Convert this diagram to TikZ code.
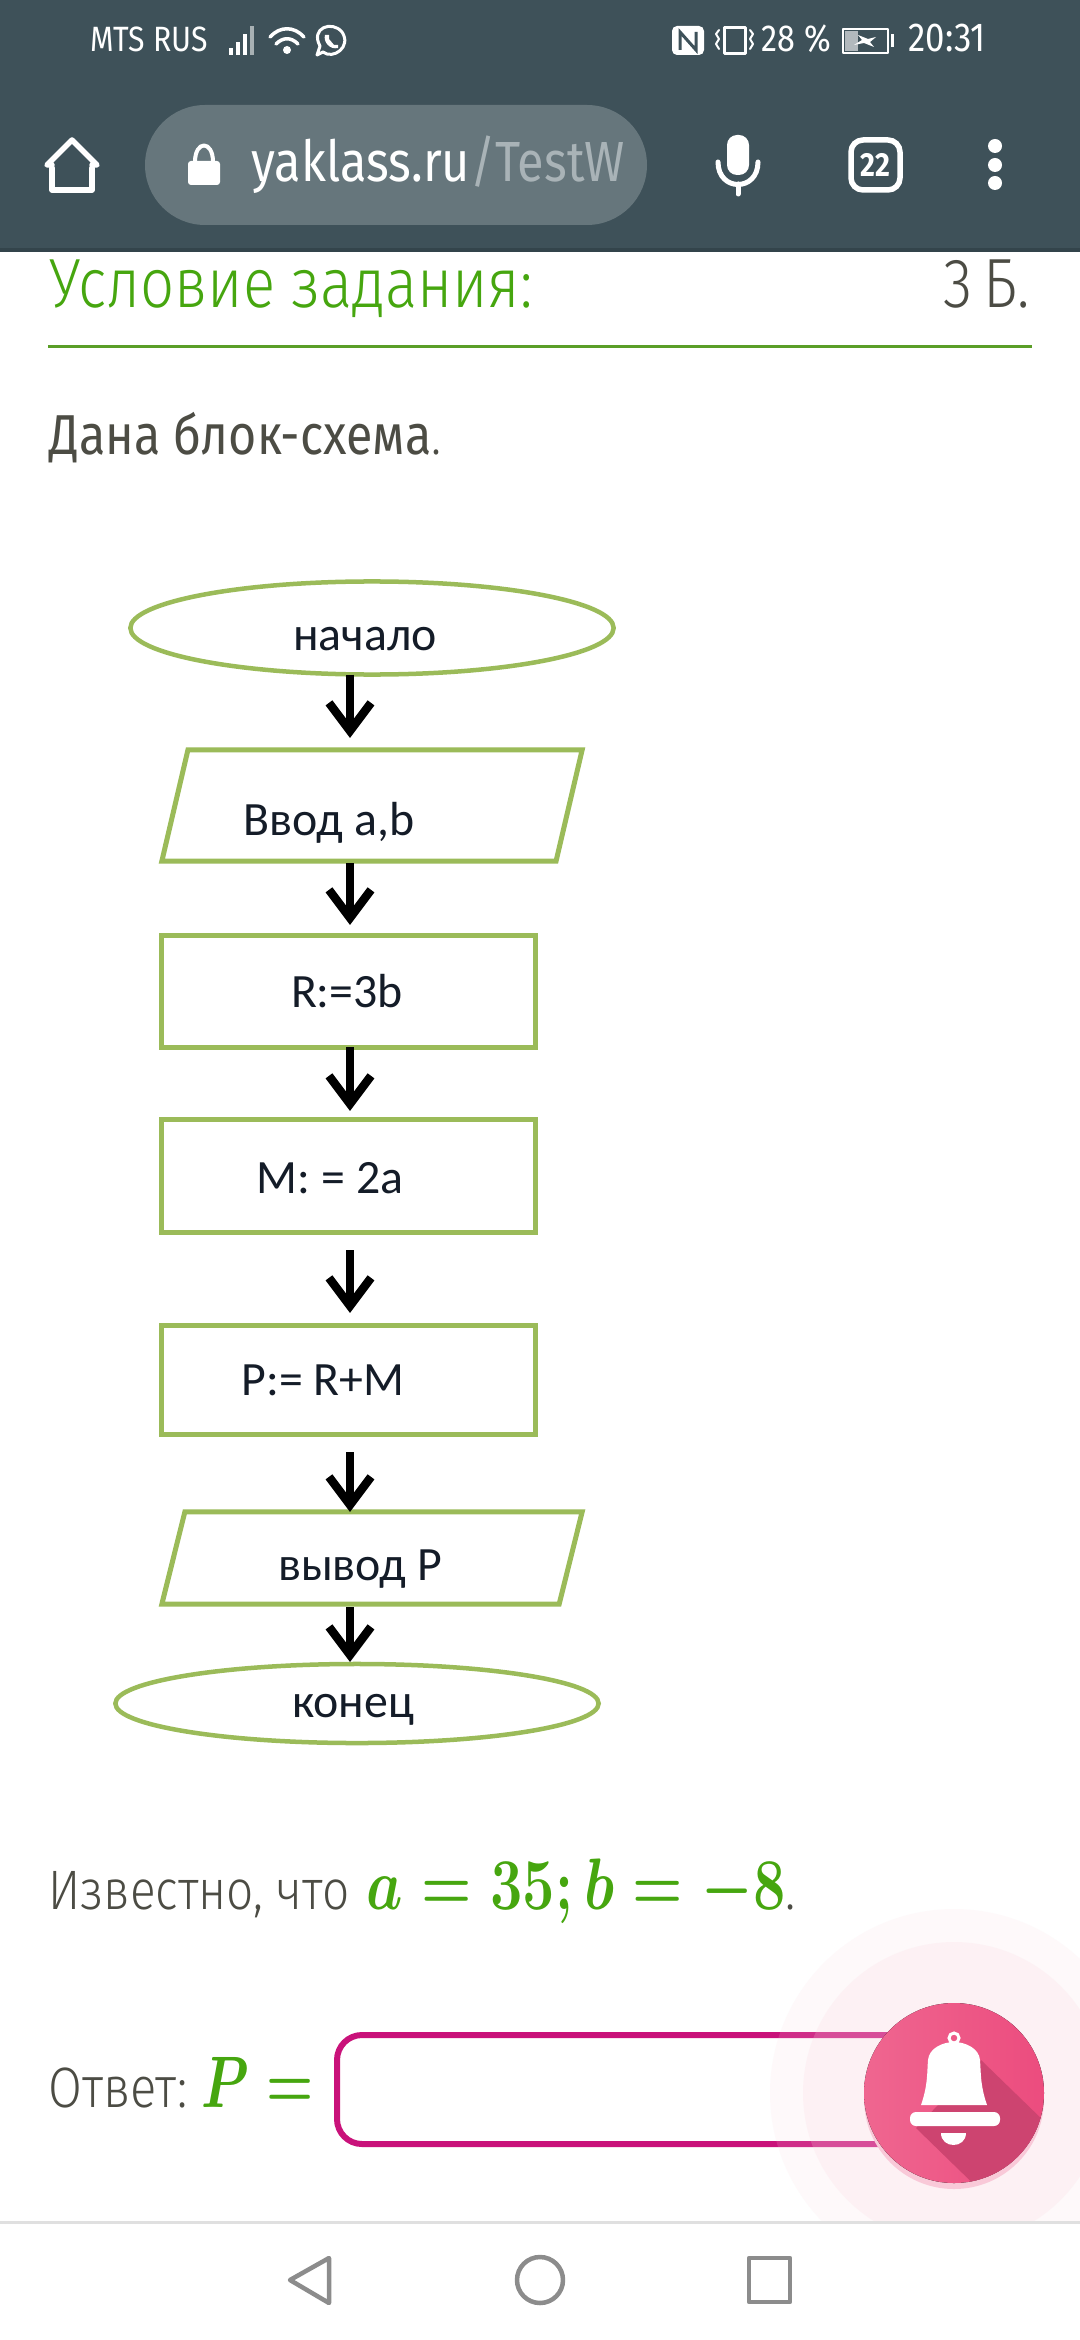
\documentclass[tikz,border=0pt]{standalone}
\usepackage{amsmath}
\usepackage{fontspec}
\usetikzlibrary{shapes.geometric, arrows.meta}

\newfontfamily\blokfont{Carlito}
\newfontfamily\lightfont{Fira Sans}[UprightFont=* Light, FakeStretch=0.86]
\newfontfamily\medfont{Fira Sans}[FakeStretch=0.86]

\definecolor{panel}{HTML}{3E5159}
\definecolor{panelln}{HTML}{33444B}
\definecolor{pill}{HTML}{66767C}
\definecolor{urlgray}{HTML}{A9B3B7}
\definecolor{zelen}{HTML}{46A60F}
\definecolor{liniya}{HTML}{5A9E27}
\definecolor{tekst}{HTML}{4C4C44}
\definecolor{blok}{HTML}{9BBB59}
\definecolor{blokt}{HTML}{141C28}
\definecolor{malina}{HTML}{C9127A}
\definecolor{bellr}{HTML}{EC4C7E}
\definecolor{belll}{HTML}{EF6690}
\definecolor{bellsh}{HTML}{CD4470}
\definecolor{halo}{HTML}{F9D5DE}
\definecolor{nav}{HTML}{8C8C8C}

\begin{document}
\begin{tikzpicture}[x=0.01cm, y=-0.01cm,
    blokbox/.style={draw=blok, line width=0.05cm, inner sep=0pt, outer sep=0pt},
    oval/.style={blokbox, ellipse, line width=0.045cm},
    paral/.style={blokbox, trapezium, inner xsep=1pt, trapezium stretches body=true, minimum width=4.2cm},
    rekt/.style={blokbox, rectangle, minimum width=3.73cm},
    bloktxt/.style={anchor=base, inner sep=0pt, text=blokt, font=\blokfont\fontsize{13.6}{16}\selectfont},
    strelka/.style={line width=0.08cm, -{Straight Barb[length=0.28cm, width=0.42cm, line width=0.085cm]}},
    stranica/.style={anchor=base west, inner sep=0pt, text=tekst, font=\lightfont\fontsize{16.2}{19}\selectfont},
    status/.style={anchor=base west, inner sep=0pt, text=white, font=\medfont\fontsize{10.7}{12}\selectfont},
    ikona/.style={draw=white, line width=0.05cm, line cap=round, line join=round},
    navi/.style={draw=nav, line width=0.045cm, line join=round}]
    \useasboundingbox (0,0) rectangle (1080,2340);
    \fill[white] (0,0) rectangle (1080,2340);

    % Panel brauzera
    \fill[panel] (0,0) rectangle (1080,250);
    \fill[panelln] (0,248) rectangle (1080,252);
    \fill[pill, rounded corners=0.6cm] (145,105) rectangle (647,225);
    \node[status, font=\medfont\fontsize{10}{12}\selectfont] (oper) at (90,52) {MTS RUS};
    \node[status] (proc) at (761,52) {28 \%};
    \node[status, font=\medfont\fontsize{11.5}{13}\selectfont] (time) at (908,52) {20:31};
    \foreach \x/\t in {229/48, 236/42, 243/34} {
        \fill[white] (\x,55) rectangle (\x+4,\t);
    }
    \fill[white!55!panel] (250,55) rectangle (254,26);
    \draw[ikona, line width=0.035cm] (270,37) .. controls (280,26) and (294,26) .. (304,37);
    \draw[ikona, line width=0.035cm] (276,44) .. controls (283,37) and (291,37) .. (298,44);
    \fill[white] (287,50) circle (4);
    \draw[ikona, line width=0.03cm] (317,55) -- (320,46) .. controls (310,28) and (332,20) .. (342,32) .. controls (352,47) and (333,60) .. (323,52) -- cycle;
    \fill[white] (325,35) -- (329,35) -- (329,39) -- (334,45) -- (338,45) -- (338,48) .. controls (330,50) and (323,42) .. (325,35) -- cycle;
    \fill[white, rounded corners=0.05cm] (672,26) rectangle (704,55);
    \draw[panel, line width=0.03cm] (680,50) -- (680,32) -- (696,50) -- (696,32);
    \draw[ikona, line width=0.03cm] (724,28) rectangle (745,54);
    \draw[ikona, line width=0.02cm] (719,30) -- (716,34) -- (719,39) -- (716,44) -- (719,49);
    \draw[ikona, line width=0.02cm] (750,30) -- (753,34) -- (750,39) -- (753,44) -- (750,49);
    \draw[ikona, line width=0.025cm] (843,29) rectangle (888,53);
    \fill[white!60!panel] (845,31) rectangle (858,51);
    \fill[white] (858,35) -- (868,39) -- (876,37) -- (870,42) -- (874,47) -- (864,43) -- (854,45) -- (862,40) -- cycle;
    \fill[white] (891,34) rectangle (894,47);

    \draw[ikona, line width=0.055cm] (52,168) -- (52,190) -- (92,190) -- (92,168);
    \draw[ikona, line width=0.055cm] (52,165) -- (47,165) -- (72,140) -- (97,165) -- (92,165);
    \fill[white, rounded corners=0.03cm] (188,161) rectangle (220,185);
    \draw[ikona, line width=0.04cm] (195,162) .. controls (195,140) and (213,140) .. (213,162);
    \node[anchor=base west, inner sep=0pt, font=\medfont\fontsize{16.1}{18}\selectfont] (url) at (251,182) {\textcolor{white}{yaklass.ru}\textcolor{urlgray}{/TestW}};
    \fill[white, rounded corners=0.1cm] (727,135) rectangle (749,175);
    \draw[ikona] (718,162) .. controls (718,192) and (758,192) .. (758,162);
    \draw[ikona] (738,184) -- (738,194);
    \draw[ikona, rounded corners=0.12cm, line width=0.055cm] (851,140) rectangle (900,190);
    \node[inner sep=0pt, text=white, font=\medfont\bfseries\fontsize{9.5}{10}\selectfont] (tabs) at (875.5,165) {22};
    \foreach \y in {146, 165, 183} {
        \fill[white] (995,\y) circle (7);
    }

    % Shapka
    \node[stranica, text=zelen, font=\lightfont\fontsize{19.8}{24}\selectfont] (usl) at (49,308) {Условие задания:};
    \node[stranica, anchor=base east, font=\lightfont\fontsize{19.8}{24}\selectfont] (ball) at (1031,308) {3\hspace{0.16em}Б.};
    \fill[liniya] (48,345.5) rectangle (1032,348.5);
    \node[stranica, font=\medfont\fontsize{16}{19}\selectfont] (dana) at (49,455) {Дана блок-схема\lightfont.};

    % Blok-shema
    \node[oval, minimum width=4.83cm, minimum height=0.93cm] (nachalo) at (372,628) {};
    \node[paral, inner ysep=0.555cm, trapezium left angle=76.8, trapezium right angle=103.2] (vvod) at (372,805.5) {};
    \node[rekt, minimum height=1.11cm] (rr) at (348.5,991.5) {};
    \node[rekt, minimum height=1.12cm] (mm) at (348.5,1176) {};
    \node[rekt, minimum height=1.08cm] (pp) at (348.5,1380) {};
    \node[paral, inner ysep=0.46cm, trapezium left angle=76, trapezium right angle=104] (vyvod) at (372,1558) {};
    \node[oval, minimum width=4.83cm, minimum height=0.79cm] (konec) at (357,1703.5) {};
    \node[bloktxt] (t1) at (365,650) {начало};
    \node[bloktxt] (t2) at (329,835) {Ввод a,b};
    \node[bloktxt] (t3) at (347,1007) {R:=3b};
    \node[bloktxt] (t4) at (330,1193) {M: = 2a};
    \node[bloktxt] (t5) at (323,1395) {P:= R+M};
    \node[bloktxt] (t6) at (360,1580) {вывод P};
    \node[bloktxt] (t7) at (353,1717) {конец};

    % Strelki
    \coordinate (os) at (350,0);
    \foreach \a/\b/\s/\e in {nachalo/vvod/0/12, vvod/rr/2/11, rr/mm/0/9, mm/pp/18/13, pp/vyvod/18/0, vyvod/konec/3/2} {
        \draw[strelka, shorten <=\s*0.01cm, shorten >=\e*0.01cm] (\a.south -| os) -- (\b.north -| os);
    }

    % Uslovie i otvet
    \node[stranica, font=\lightfont\fontsize{15.8}{19}\selectfont] (izv) at (48,1909) {Известно, что};
    \node[anchor=base west, inner sep=0pt, text=zelen] (znach) at (366,1909) {\scalebox{0.79}[1]{\fontsize{20.74}{25}\selectfont\boldmath$a=35;b=-8$}};
    \node[stranica] (tochka) at (785,1909) {.};
    \node[stranica] (otv) at (48,2107) {Ответ:};
    \node[anchor=base west, inner sep=0pt, text=zelen] (pe) at (201,2107) {\scalebox{0.74}[1]{\fontsize{20.74}{25}\selectfont\boldmath$P=$}};
    \draw[malina, line width=0.06cm, rounded corners=0.25cm] (337,2035) rectangle (960,2144);
    \node[inner sep=0pt, minimum width=6.23cm, minimum height=1.09cm] (pole) at (648.5,2089.5) {};

    % Kolokolchik
    \fill[halo, opacity=0.14] (954,2093) circle (184);
    \fill[halo, opacity=0.2] (954,2093) circle (151);
    \fill[white] (0,2222) rectangle (1080,2340);
    \fill[bellr!30!white] (954,2099) circle (90);
    \fill[left color=belll, right color=bellr] (954,2093) circle (90);
    \begin{scope}
        \clip (954,2093) circle (90);
        \fill[bellsh] (981,2060) -- (1050,2127) -- (1050,2200) -- (990,2200) -- (916,2128) -- cycle;
    \end{scope}
    \fill[white] (921,2105) .. controls (928,2085) and (927,2072) .. (928,2060) .. controls (929,2048) and (943,2042) .. (954,2042) .. controls (965,2042) and (979,2048) .. (980,2060) .. controls (981,2072) and (980,2085) .. (987,2105) -- cycle;
    \draw[white, line width=0.03cm] (954,2038) circle (5);
    \fill[white, rounded corners=0.06cm] (910,2112) rectangle (1000,2126);
    \fill[white] (941,2133) -- (966,2133) .. controls (966,2149) and (941,2149) .. (941,2133) -- cycle;

    % Navigaciya
    \fill[black!12] (0,2220.5) rectangle (1080,2223.5);
    \draw[navi] (329,2258) -- (290,2280) -- (329,2303) -- cycle;
    \draw[navi] (540,2280) circle (23);
    \draw[navi] (749,2258) rectangle (790,2302);
\end{tikzpicture}
\end{document}
